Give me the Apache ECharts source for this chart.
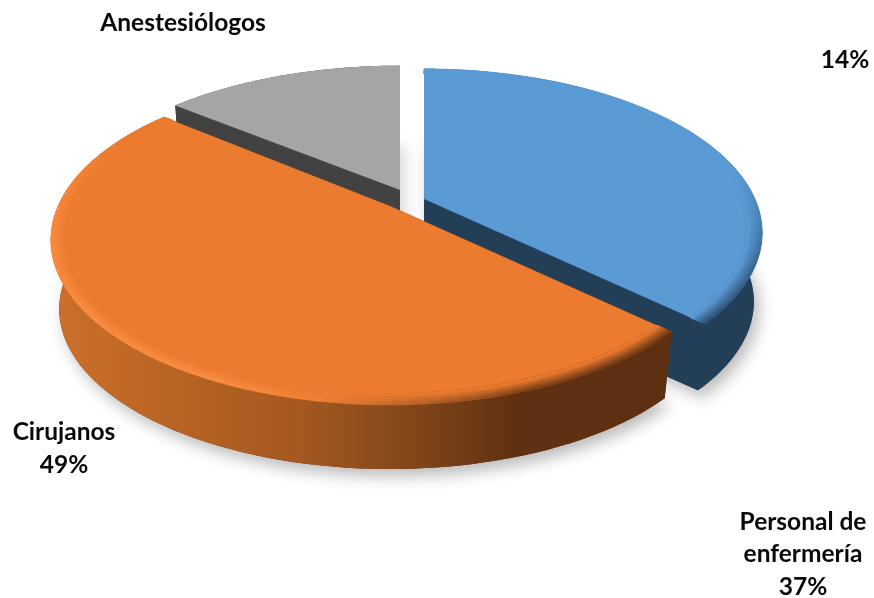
<!DOCTYPE html>
<html><head><meta charset="utf-8">
<style>html,body{margin:0;padding:0;background:#fff}#c{width:874px;height:598px}</style>
<script src="https://cdn.jsdelivr.net/npm/echarts@6/dist/echarts.min.js"></script>
</head><body><div id="c"></div>
<script>
const categories = ['Personal de\nenfermería', 'Cirujanos', 'Anestesiólogos'];
const shares = [37, 49, 14];

const total = shares.reduce((a, b) => a + b, 0);
const K = 0.206, DEPTH = 70, SX = 0.975, SY = 0.97;
const looks = [
  { cx: 424, cy: 199, a: 331, b: 157, order: 2, top: '#5B9BD5', wall: '#233F58', side: '#233F58', shadow: 0.28,
    rim: [[0, '#5B9BD5'], [78, '#5B9BD5'], [95, '#4a82b4'], [115, '#345c82'], [134, '#25435e']] },
  { cx: 390, cy: 206, a: 332, b: 158, order: 3, top: '#EB7B2F', wall: '#5E3012', side: null, shadow: 0.28,
    rim: [[133, '#5E3012'], [160, '#6a3615'], [178, '#b4622a'], [190, '#F08238'], [205, '#FC9148'], [262, '#FA8C3E'], [282, '#F4843A'], [296, '#EB7B2F'], [310, '#EB7B2F']] },
  { cx: 400, cy: 190, a: 330, b: 150, order: 1, top: '#A5A5A5', wall: '#424242', side: '#424242', shadow: 0.16, rim: null }
];
const sideStops = [[0, '#CB702A'], [0.4, '#A5581F'], [0.56, '#87491B'], [0.76, '#5F3011'], [1, '#5E3012']];
const textSpots = [
  { name: [803, 538], val: [803, 587] },
  { name: [64, 432], val: [64, 465] },
  { name: [183, 23], val: [845, 60] }
];

const hex = h => [1, 3, 5].map(i => parseInt(h.substr(i, 2), 16));
function mixRgb(a, b, t) { return a.map((v, i) => v + (b[i] - v) * t); }
function css(c) { return 'rgb(' + c.map(Math.round).join(',') + ')'; }
function rimColor(L, deg, t) {
  const R = L.rim;
  let c = hex(R[R.length - 1][1]);
  for (let i = 0; i < R.length - 1; i++) {
    if (deg >= R[i][0] && deg <= R[i + 1][0]) {
      c = mixRgb(hex(R[i][1]), hex(R[i + 1][1]), (deg - R[i][0]) / (R[i + 1][0] - R[i][0]));
      break;
    }
  }
  return css(mixRgb(c, hex(L.top), t));
}
function project(L, th, r, lower) {
  const u = r * Math.sin(th), v = r * Math.cos(th), w = 1 + K * v;
  return [
    L.cx + L.a * u / w * (lower ? SX : 1),
    L.cy - L.b * v / w * (lower ? SY : 1) + (lower ? DEPTH : 0)
  ];
}
function arc(L, t0, t1, r, lower) {
  const pts = [], n = 90;
  for (let i = 0; i <= n; i++) pts.push(project(L, t0 + (t1 - t0) * i / n, r, lower));
  return pts;
}
function poly(points, style, z2) {
  return { type: 'polygon', shape: { points }, style, z2, silent: true };
}
function renderItem(params, api) {
  const i = params.dataIndex;
  const L = looks[i];
  let before = 0;
  for (let j = 0; j < i; j++) before += shares[j];
  const t0 = before / total * Math.PI * 2;
  const t1 = (before + api.value(0)) / total * Math.PI * 2;
  const z = L.order * 1000;
  const kids = [];
  const apexTop = project(L, 0, 0, false), apexLow = project(L, 0, 0, true);
  const lowArc = arc(L, t0, t1, 1, true), topArc = arc(L, t0, t1, 1, false);

  kids.push(poly([apexLow].concat(lowArc), {
    fill: L.wall, shadowBlur: 16, shadowColor: 'rgba(0,0,0,' + L.shadow + ')', shadowOffsetX: 5, shadowOffsetY: 7
  }, z));
  [t0, t1].forEach((t, k) => {
    kids.push(poly([apexTop, project(L, t, 1, false), project(L, t, 1, true), apexLow], { fill: L.wall }, z + 1 + k));
  });
  kids.push(poly(topArc.concat(lowArc.slice().reverse()), {
    fill: L.side ? L.side : {
      type: 'linear', global: true, x: 55, y: 0, x2: 665, y2: 0,
      colorStops: sideStops.map(s => ({ offset: s[0], color: s[1] }))
    }
  }, z + 4));
  kids.push(poly([apexTop].concat(topArc), { fill: L.top }, z + 5));
  if (L.rim) {
    const rings = 9, segs = 72, depth = 0.045;
    for (let s = 0; s < rings; s++) {
      const t = s / rings, r = 1 - depth * t, rIn = 1 - depth;
      for (let g = 0; g < segs; g++) {
        const a0 = t0 + (t1 - t0) * g / segs, a1 = t0 + (t1 - t0) * (g + 1) / segs;
        const col = rimColor(L, (a0 + a1) / 2 * 180 / Math.PI, (s + 1) / rings);
        kids.push(poly([
          project(L, a0, r, false), project(L, a1, r, false),
          project(L, a1, rIn, false), project(L, a0, rIn, false)
        ], { fill: col, stroke: col, lineWidth: 0.5 }, z + 6 + s));
      }
    }
  }
  const spot = textSpots[i];
  const font = { fontFamily: 'Lato', fontWeight: 'bold', fontSize: 24.5, fill: '#0a0a0a', align: 'center', verticalAlign: 'middle', lineHeight: 32 };
  kids.push({ type: 'text', x: spot.name[0], y: spot.name[1], z2: 9000, silent: true,
    style: Object.assign({ text: categories[i] }, font) });
  kids.push({ type: 'text', x: spot.val[0], y: spot.val[1], z2: 9000, silent: true,
    style: Object.assign({ text: api.value(0) + '%' }, font) });
  return { type: 'group', children: kids };
}
const chart = echarts.init(document.getElementById('c'), null, { renderer: 'canvas', width: 874, height: 598 });
chart.setOption({
  backgroundColor: '#ffffff',
  animation: false,
  series: [{
    type: 'custom',
    coordinateSystem: 'none',
    clip: false,
    silent: true,
    renderItem,
    data: shares.map((v, i) => ({ name: categories[i], value: [v] }))
  }]
});
</script></body></html>
